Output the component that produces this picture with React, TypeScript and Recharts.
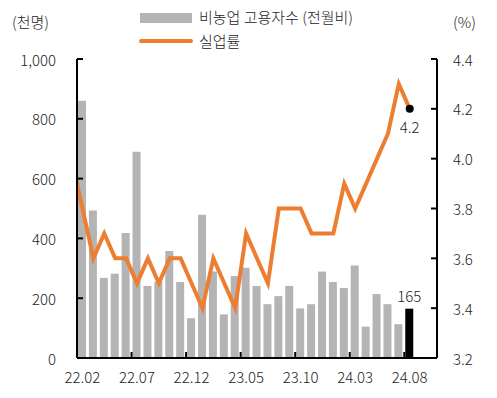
import React from 'react';
import { ComposedChart, Bar, Line, XAxis, YAxis } from 'recharts';

// 22.01 is only there so the line runs in from the left edge (it is clipped)
const months = [
    '22.01', '22.02', '22.03', '22.04', '22.05', '22.06', '22.07', '22.08', '22.09', '22.10', '22.11', '22.12',
    '23.01', '23.02', '23.03', '23.04', '23.05', '23.06', '23.07', '23.08', '23.09', '23.10', '23.11', '23.12',
    '24.01', '24.02', '24.03', '24.04', '24.05', '24.06', '24.07', '24.08',
];

// 비농업 고용자수 (전월비, 천명), 22.02 ~ 24.08
const payrolls = [
    860, 493, 268, 282, 418, 690, 241, 255, 358, 254, 133,
    479, 289, 146, 274, 302, 241, 180, 207, 241, 166, 180, 289,
    254, 234, 309, 105, 214, 180, 113, 165,
];

// 실업률 (%), 22.01 ~ 24.08
const unemployment = [
    4.0, 3.8, 3.6, 3.7, 3.6, 3.6, 3.5, 3.6, 3.5, 3.6, 3.6, 3.5,
    3.4, 3.6, 3.5, 3.4, 3.7, 3.6, 3.5, 3.8, 3.8, 3.8, 3.7, 3.7,
    3.7, 3.9, 3.8, 3.9, 4.0, 4.1, 4.3, 4.2,
];

const xTicks = [0, 5, 10, 15, 20, 25, 30];
const leftTicks = [0, 200, 400, 600, 800, 1000];
const rightTicks = [3.2, 3.4, 3.6, 3.8, 4.0, 4.2, 4.4];

const FONT = '"Noto Sans CJK KR", "Noto Sans", sans-serif';
const WEIGHT = 300;
const TEXT = '#222';
const ORANGE = '#ED7D31';
const GRAY = '#B4B4B4';

const last = months.length - 1;
const data = months.map((m, i) => ({
    idx: i - 1,
    month: m,
    payroll: i > 0 && i < last ? payrolls[i - 1] : null,
    lastPayroll: i === last ? payrolls[i - 1] : null,
    rate: unemployment[i],
    lastRate: i === last ? unemployment[i] : null,
}));

const PLOT_W = 360;
const BAND = PLOT_W / 33;

function LeftTick(props: any) {
    const { x, y, payload } = props;
    return (
        <g>
            <line x1={x} x2={x + 6} y1={y} y2={y} stroke="#000" strokeWidth={2} />
            <text x={x - 21} y={y} textAnchor="end" dominantBaseline="central" fontSize={15} fontWeight={WEIGHT} fill={TEXT} fontFamily={FONT}>
                {payload.value.toLocaleString('en-US')}
            </text>
        </g>
    );
}

function RightTick(props: any) {
    const { x, y, payload } = props;
    return (
        <g>
            <line x1={x - 6} x2={x} y1={y} y2={y} stroke="#000" strokeWidth={2} />
            <text x={x + 16} y={y} textAnchor="start" dominantBaseline="central" fontSize={15} fontWeight={WEIGHT} fill={TEXT} fontFamily={FONT}>
                {payload.value.toFixed(1)}
            </text>
        </g>
    );
}

function BottomTick(props: any) {
    const { x, y, payload } = props;
    const lx = x - BAND / 2;
    return (
        <g>
            <line x1={lx} x2={lx} y1={y} y2={y - 6} stroke="#000" strokeWidth={2} />
            <text x={x} y={y + 18} textAnchor="middle" dominantBaseline="central" fontSize={15} fontWeight={WEIGHT} fill={TEXT} fontFamily={FONT}>
                {months[payload.value + 1]}
            </text>
        </g>
    );
}

export default function App() {
    const txt: React.CSSProperties = { position: 'absolute', fontFamily: FONT, fontSize: 15, fontWeight: WEIGHT, color: TEXT, lineHeight: '18px', whiteSpace: 'nowrap' };
    return (
        <div style={{ position: 'absolute', left: 0, top: 0, width: 497, height: 398, background: '#fff' }}>
            <ComposedChart width={497} height={398} data={data} margin={{ top: 59, right: 0, bottom: 10, left: 0 }}>
                <XAxis
                    dataKey="idx"
                    type="number"
                    domain={[-0.5, 32.5]}
                    allowDataOverflow
                    ticks={xTicks}
                    interval={0}
                    height={30}
                    tickSize={0}
                    tickMargin={0}
                    tick={<BottomTick />}
                    axisLine={{ stroke: '#000', strokeWidth: 2 }}
                    tickLine={false}
                />
                <YAxis
                    yAxisId="left"
                    domain={[0, 1000]}
                    ticks={leftTicks}
                    width={77}
                    tickSize={0}
                    tickMargin={0}
                    tick={<LeftTick />}
                    axisLine={{ stroke: '#000', strokeWidth: 2 }}
                    tickLine={false}
                />
                <YAxis
                    yAxisId="right"
                    orientation="right"
                    domain={[3.2, 4.4]}
                    ticks={rightTicks}
                    width={60}
                    tickSize={0}
                    tickMargin={0}
                    tick={<RightTick />}
                    axisLine={{ stroke: '#000', strokeWidth: 2 }}
                    tickLine={false}
                />
                <Bar yAxisId="left" dataKey="payroll" stackId="p" fill={GRAY} barSize={8} isAnimationActive={false} />
                <Bar
                    yAxisId="left"
                    dataKey="lastPayroll"
                    stackId="p"
                    fill="#000"
                    barSize={8}
                    isAnimationActive={false}
                    label={{ position: 'top', offset: 7, fill: TEXT, fontSize: 15, fontWeight: WEIGHT, fontFamily: FONT }}
                />
                <Line
                    yAxisId="right"
                    dataKey="rate"
                    type="linear"
                    stroke={ORANGE}
                    strokeWidth={4}
                    dot={false}
                    activeDot={false}
                    isAnimationActive={false}
                />
                <Line
                    yAxisId="right"
                    dataKey="lastRate"
                    stroke="none"
                    dot={{ r: 4, fill: '#000', stroke: 'none' }}
                    activeDot={false}
                    isAnimationActive={false}
                    label={{ position: 'bottom', offset: 14, fill: TEXT, fontSize: 15, fontWeight: WEIGHT, fontFamily: FONT }}
                />
            </ComposedChart>
            <div style={{ ...txt, left: 12, top: 13 }}>(천명)</div>
            <div style={{ ...txt, left: 453, top: 13 }}>(%)</div>
            <div style={{ position: 'absolute', left: 140, top: 13, width: 52, height: 10, background: GRAY }} />
            <div style={{ ...txt, left: 199, top: 8 }}>비농업 고용자수 (전월비)</div>
            <div style={{ position: 'absolute', left: 139, top: 39, width: 54, height: 4, background: ORANGE, borderRadius: 2 }} />
            <div style={{ ...txt, left: 199, top: 32 }}>실업률</div>
        </div>
    );
}
